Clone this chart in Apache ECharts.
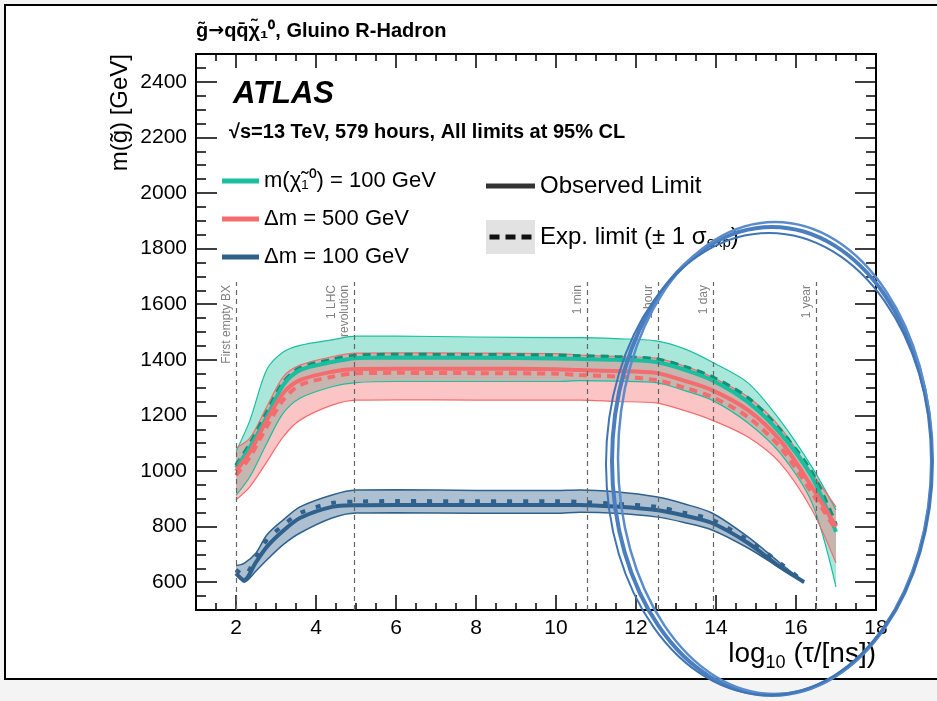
<!DOCTYPE html>
<html><head><meta charset="utf-8">
<script src="https://cdn.jsdelivr.net/npm/echarts@6/dist/echarts.min.js"></script>
<style>html,body{margin:0;padding:0;background:#f4f4f4}#c{width:937px;height:701px}</style>
</head><body><div id="c"></div>
<script>
// ---- data ----
const xTR = [2, 2.35, 2.77, 3.18, 3.6, 4.4, 5, 6, 8, 10, 10.6, 11.5, 12.5, 13.2, 13.9, 14.8, 15.6, 16.4, 17.0];
const tealUp  = [1070, 1183, 1365, 1428, 1452, 1472, 1485, 1485, 1482, 1480, 1480, 1476, 1468, 1440, 1392, 1317, 1183, 1014, 860];
const tealLo  = [912, 980, 1100, 1208, 1262, 1303, 1318, 1322, 1322, 1322, 1325, 1323, 1318, 1290, 1255, 1173, 1065, 885, 583];
const tealObs = [1011, 1086, 1194, 1309, 1363, 1392, 1406, 1408, 1407, 1405, 1403, 1400, 1392, 1365, 1327, 1248, 1137, 978, 781];
const tealExp = [1020, 1097, 1210, 1318, 1370, 1400, 1415, 1418, 1417, 1416, 1413, 1410, 1402, 1375, 1338, 1262, 1147, 993, 806];
const redUp   = [1083, 1119, 1231, 1339, 1381, 1411, 1424, 1425, 1424, 1422, 1417, 1412, 1406, 1378, 1338, 1266, 1158, 993, 871];
const redLo   = [896, 944, 1033, 1123, 1183, 1237, 1255, 1256, 1255, 1255, 1255, 1250, 1245, 1218, 1183, 1122, 1029, 860, 669];
const redObs  = [1000, 1069, 1183, 1280, 1327, 1357, 1367, 1368, 1368, 1366, 1363, 1360, 1353, 1325, 1291, 1219, 1111, 942, 799];
const redExp  = [985, 1051, 1160, 1255, 1309, 1339, 1352, 1353, 1352, 1350, 1345, 1340, 1327, 1300, 1266, 1194, 1086, 921, 788];

const xB = [2, 2.2, 2.5, 2.77, 3.18, 3.6, 4.4, 5, 6, 8, 10, 10.6, 11.5, 12.5, 13.2, 13.9, 14.8, 15.6, 16.2];
const blueUp  = [660, 668, 705, 770, 824, 871, 914, 932, 933, 930, 930, 932, 925, 907, 882, 849, 763, 669, 601];
const blueLo  = [635, 600, 640, 680, 735, 777, 831, 849, 850, 848, 848, 852, 848, 835, 815, 788, 723, 651, 598];
const blueObs = [632, 608, 672, 727, 785, 831, 871, 877, 878, 878, 878, 878, 872, 860, 840, 813, 741, 655, 601];
const blueExp = [645, 625, 690, 752, 805, 849, 885, 890, 892, 891, 891, 889, 882, 871, 850, 824, 752, 669, 601];

const refX = [2, 4.95, 10.78, 12.56, 13.94, 16.5];
const refLabels = ['First empty BX', '1 LHC\nrevolution', '1 min', '1 hour', '1 day', '1 year'];
const refTop = 1680;

const xMajorTicks = [2, 4, 6, 8, 10, 12, 14, 16, 18];
const yMajorTicks = [600, 800, 1000, 1200, 1400, 1600, 1800, 2000, 2200, 2400];

const TEAL_NAME = 'm(χ̃₁⁰) = 100 GeV';
const RED_NAME = 'Δm = 500 GeV';
const BLUE_NAME = 'Δm = 100 GeV';

// ---- styling ----
const FONT = '"Liberation Sans", Arial, Helvetica, sans-serif';
const TEAL = '#1bbf9f', TEAL_D = '#12917a';
const RED = '#f56c6e';
const BLUE = '#30618c';

const chart = echarts.init(document.getElementById('c'), null, {renderer: 'canvas'});

const pairs = (xs, ys) => xs.map((x, i) => [x, ys[i]]);
// band data is stored as [y, x] so that the stacked dimension is the mass (y)
const bandLo = (xs, lo) => xs.map((x, i) => [lo[i], x]);
const bandW = (xs, up, lo) => xs.map((x, i) => [up[i] - lo[i], x]);

function band(id, xs, up, lo, edge, fill, w) {
  return [
    {name: id + '-lo', type: 'line', stack: id, data: bandLo(xs, lo), encode: {x: 1, y: 0},
     smooth: 0.3, symbol: 'none', lineStyle: {color: edge, width: w}, z: 2, silent: true},
    {name: id + '-hi', type: 'line', stack: id, data: bandW(xs, up, lo), encode: {x: 1, y: 0},
     smooth: 0.3, symbol: 'none', lineStyle: {color: edge, width: w},
     areaStyle: {color: fill, opacity: 1}, z: 2, silent: true}
  ];
}
function line(name, xs, ys, color, w, type) {
  return {name: name, type: 'line', data: pairs(xs, ys), smooth: 0.3, symbol: 'none',
    lineStyle: {color: color, width: w, type: type || 'solid'}, itemStyle: {color: color}, z: 4, silent: true};
}

const axisCommon = {min: 1, max: 18, splitLine: {show: false}};
const yCommon = {min: 500, max: 2500, splitLine: {show: false}};

const series = [].concat(
  band('teal', xTR, tealUp, tealLo, TEAL, 'rgba(27,191,159,0.38)', 1.2),
  band('red', xTR, redUp, redLo, RED, 'rgba(245,108,110,0.40)', 1.2),
  band('blue', xB, blueUp, blueLo, BLUE, 'rgba(48,97,140,0.40)', 1.5),
  [
    line('teal-exp', xTR, tealExp, TEAL_D, 4, [8, 6]),
    line(TEAL_NAME, xTR, tealObs, TEAL, 4),
    line('red-exp', xTR, redExp, RED, 4, [8, 6]),
    line(RED_NAME, xTR, redObs, RED, 4),
    line(BLUE_NAME, xB, blueObs, BLUE, 4),
    line('blue-exp', xB, blueExp, BLUE, 4, [5, 11]),
    {name: 'Observed Limit', type: 'line', data: [], itemStyle: {color: '#333'}, lineStyle: {color: '#333'}},
    {name: 'Exp. limit', type: 'line', data: [], itemStyle: {color: '#111'}, lineStyle: {color: '#111', type: 'dashed'},
     markLine: {
       silent: true, symbol: ['none', 'none'],
       lineStyle: {color: '#666', width: 1.2, type: [5, 4]},
       label: {show: true, position: 'insideEndTop', formatter: '{b}', color: '#808080', fontSize: 12,
               fontFamily: FONT, distance: 3, lineHeight: 13},
       data: refX.map((x, i) => [{coord: [x, 500], name: refLabels[i]}, {coord: [x, refTop], name: refLabels[i]}])
     }}
  ]
);

const option = {
  backgroundColor: '#f4f4f4',
  animation: false,
  textStyle: {fontFamily: FONT},
  title: [
    {text: '{t|g̃}{r|→}{t|qq̄χ̃₁⁰, Gluino R-Hadron}', left: 196, top: 21, padding: 0,
     textStyle: {fontFamily: FONT, fontWeight: 'bold', fontSize: 20, color: '#000',
       rich: {t: {fontFamily: FONT, fontWeight: 'bold', fontSize: 20, color: '#000'},
              r: {fontFamily: '"DejaVu Sans", sans-serif', fontSize: 19, color: '#000'}}}},
    {text: 'ATLAS', left: 233, top: 79, padding: 0,
     textStyle: {fontFamily: FONT, fontWeight: 'bold', fontStyle: 'italic', fontSize: 31, color: '#000'}},
    {text: '√s=13 TeV, 579 hours, All limits at 95% CL', left: 229, top: 122, padding: 0,
     textStyle: {fontFamily: FONT, fontWeight: 'bold', fontSize: 20, color: '#000'}}
  ],
  legend: [
    {left: 222, top: 170, orient: 'vertical', itemWidth: 37, itemHeight: 5, itemGap: 16, icon: 'rect',
     selectedMode: false, z: 5, padding: 0,
     data: [TEAL_NAME, RED_NAME, BLUE_NAME],
     textStyle: {fontFamily: FONT, fontSize: 22, color: '#000'}},
    {left: 486, top: 174, orient: 'vertical', itemWidth: 49, itemHeight: 5, itemGap: 27,
     selectedMode: false, z: 5, padding: 0,
     data: [{name: 'Observed Limit', icon: 'rect'},
            {name: 'Exp. limit', icon: 'path://M0,0h10v5h-10zM16,0h10v5h-10zM32,0h10v5h-10z'}],
     formatter: n => n === 'Exp. limit' ? 'Exp. limit (± 1 σ{sub|exp})' : n,
     textStyle: {fontFamily: FONT, fontSize: 24, color: '#000',
       rich: {sub: {fontFamily: FONT, fontSize: 15, color: '#000', padding: [12, 0, 0, 0]}}}}
  ],
  grid: {left: 196, right: 61, top: 54, bottom: 91, containLabel: false},
  xAxis: [
    Object.assign({type: 'value', position: 'bottom', interval: 0.5,
      axisLine: {show: true, lineStyle: {color: '#000', width: 2}},
      axisTick: {show: true, inside: true, length: 7, lineStyle: {color: '#000', width: 1.5}},
      axisLabel: {show: true, margin: 8, fontSize: 21, color: '#000', fontFamily: FONT,
        formatter: v => (Math.abs(v % 2) < 1e-9 ? String(v) : '')},
      name: 'log{sub|10} (τ/[ns])', nameLocation: 'end', nameGap: 0,
      nameTextStyle: {fontFamily: FONT, fontSize: 28, color: '#000', align: 'right', verticalAlign: 'top',
        padding: [26, 0, 0, 0],
        rich: {sub: {fontFamily: FONT, fontSize: 18, color: '#000', padding: [18, 0, 0, 0]}}}
    }, axisCommon),
    Object.assign({type: 'value', position: 'bottom',
      axisLine: {show: false}, axisLabel: {show: false},
      axisTick: {show: true, inside: true, length: 15, customValues: xMajorTicks, lineStyle: {color: '#000', width: 1.5}}
    }, axisCommon),
    Object.assign({type: 'value', position: 'top', interval: 0.5,
      axisLine: {show: true, lineStyle: {color: '#000', width: 2}}, axisLabel: {show: false},
      axisTick: {show: true, inside: true, length: 7, lineStyle: {color: '#000', width: 1.5}}
    }, axisCommon),
    Object.assign({type: 'value', position: 'top',
      axisLine: {show: false}, axisLabel: {show: false},
      axisTick: {show: true, inside: true, length: 14, customValues: xMajorTicks, lineStyle: {color: '#000', width: 1.5}}
    }, axisCommon)
  ],
  yAxis: [
    Object.assign({type: 'value', position: 'left', interval: 50,
      axisLine: {show: true, lineStyle: {color: '#000', width: 2}},
      axisTick: {show: true, inside: true, length: 10, lineStyle: {color: '#000', width: 1.5}},
      axisLabel: {show: true, margin: 9, fontSize: 21, color: '#000', fontFamily: FONT,
        formatter: v => (v % 200 === 0 ? String(v) : '')}
    }, yCommon),
    Object.assign({type: 'value', position: 'left',
      axisLine: {show: false}, axisLabel: {show: false},
      axisTick: {show: true, inside: true, length: 21, customValues: yMajorTicks, lineStyle: {color: '#000', width: 1.5}}
    }, yCommon),
    Object.assign({type: 'value', position: 'right', interval: 50,
      axisLine: {show: true, lineStyle: {color: '#000', width: 2}}, axisLabel: {show: false},
      axisTick: {show: true, inside: true, length: 10, lineStyle: {color: '#000', width: 1.5}}
    }, yCommon),
    Object.assign({type: 'value', position: 'right',
      axisLine: {show: false}, axisLabel: {show: false},
      axisTick: {show: true, inside: true, length: 21, customValues: yMajorTicks, lineStyle: {color: '#000', width: 1.5}}
    }, yCommon)
  ],
  graphic: [
    {type: 'rect', z: -10, silent: true, shape: {x: 5, y: 5, width: 960, height: 674},
     style: {fill: '#ffffff', stroke: '#000', lineWidth: 2}},
    {type: 'rect', z: 3, silent: true, shape: {x: 486, y: 220, width: 49, height: 34},
     style: {fill: '#e2e2e2'}},
    {type: 'text', z: 5, silent: true, x: 120, y: 54, rotation: Math.PI / 2,
     style: {text: 'm(g̃) [GeV]', fontFamily: FONT, fontSize: 24, fill: '#000',
             align: 'right', verticalAlign: 'middle', textAlign: 'right', textVerticalAlign: 'middle'}},
    {type: 'ellipse', z: 100, silent: true, shape: {cx: 772, cy: 461, rx: 160, ry: 234},
     style: {fill: 'none', stroke: '#4a7ebf', lineWidth: 4}},
    {type: 'ellipse', z: 100, silent: true, shape: {cx: 775, cy: 458, rx: 157, ry: 236},
     style: {fill: 'none', stroke: '#5a8ccb', lineWidth: 2.5}},
    {type: 'ellipse', z: 100, silent: true, shape: {cx: 769, cy: 464, rx: 163, ry: 231},
     style: {fill: 'none', stroke: '#3f74b5', lineWidth: 2}}
  ],
  series: series
};
chart.setOption(option);
</script></body></html>
